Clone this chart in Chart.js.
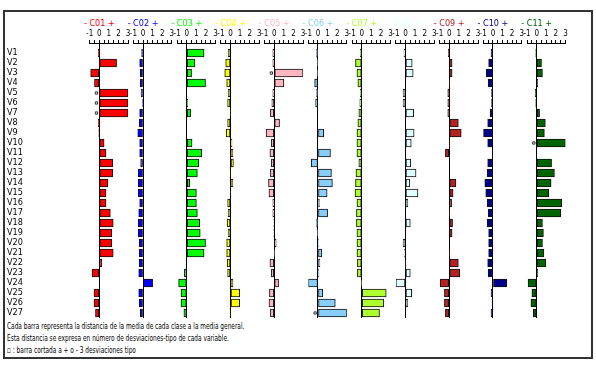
<!DOCTYPE html>
<html>
<head>
<meta charset="utf-8">
<script src="https://cdn.jsdelivr.net/npm/chart.js@4.4.1/dist/chart.umd.min.js"></script>
<style>
  body { margin:0; background:#fff; width:596px; height:371px; overflow:hidden;
         font-family:'Liberation Sans Narrow','DejaVu Sans Condensed','Liberation Sans',sans-serif; }
  #marco { position:absolute; left:3px; top:10px; width:586px; height:345px; border:2px solid #333; }
  canvas { position:absolute; top:0; }
  .titulo { position:absolute; top:18px; font-size:9px; transform:translateX(-50%); white-space:nowrap; }
  .nota { position:absolute; left:7px; font-size:9px; white-space:nowrap; color:#000;
          transform:scaleX(0.72); transform-origin:0 0; }
</style>
</head>
<body>
<div id="marco"></div>
<div class="nota" style="top:321px">Cada barra representa la distancia de la media de cada clase a la media general.</div>
<div class="nota" style="top:333px">Esta distancia se expresa en número de desviaciones-tipo de cada variable.</div>
<div class="nota" style="top:345px">▫ : barra cortada a + o - 3 desviaciones tipo</div>

<script>
// Datos
const variables = ['V1','V2','V3','V4','V5','V6','V7','V8','V9','V10','V11','V12','V13','V14',
                   'V15','V16','V17','V18','V19','V20','V21','V22','V23','V24','V25','V26','V27'];
const clases = ['C01','C02','C03','C04','C05','C06','C07','C08','C09','C10','C11'];
const ejeTicks = [-1, 0, 1, 2, 3];

const c01 = [-0.1, 1.8, -0.9, -0.5, 3, 3, 3, -0.1, -0.05, 0.5, 0.7, 1.4, 1.4, 0.9, 0.7, 0.7, 1.15, 1.45, 1.3, 1.3, 1.45, 0.25, -0.75, 0, -0.55, -0.55, -0.4];
const c02 = [-0.15, -0.35, -0.3, -0.3, -0.2, -0.05, -0.35, -0.4, -0.55, -0.35, -0.35, -0.25, -0.5, -0.5, -0.5, -0.35, -0.45, -0.5, -0.5, -0.4, -0.4, -0.4, -0.45, 1.0, -0.45, -0.4, -0.3];
const c03 = [1.8, 0.85, 0.5, 1.95, 0, 0.1, 0.4, 0, 0, 0.55, 1.55, 1.25, 1.1, 0.3, 1.0, 1.0, 1.1, 1.35, 1.4, 1.95, 1.8, 0, -0.25, -0.85, -0.6, -0.6, -0.3];
const c04 = [-0.25, -0.5, -0.6, -0.4, -0.25, -0.3, -0.05, -0.3, -0.45, 0.15, 0.25, 0.3, -0.05, 0.25, 0.05, -0.3, -0.25, -0.35, -0.25, -0.4, -0.4, -0.35, -0.3, 0.25, 0.95, 0.95, -0.05];
const c05 = [-0.15, -0.15, 3, 1.0, -0.15, -0.25, -0.4, 0.55, -0.85, -0.3, -0.45, -0.3, -0.4, -0.6, -0.55, -0.15, -0.15, -0.05, -0.05, 0.2, 0.05, -0.45, -0.3, 0.45, -0.5, -0.55, -0.4];
const c06 = [-0.15, -0.05, -0.05, -0.35, -0.15, -0.25, 0, 0, 0.6, 0, 1.3, -0.7, 1.4, 1.5, 0.95, 0.15, 1.0, -0.15, -0.05, 0.05, 0.4, 0.2, 0.1, -1.0, 0.5, 1.8, 3];
const c07 = [-0.15, -0.65, -0.5, -0.4, -0.15, -0.2, -0.3, -0.4, -0.5, -0.5, -0.5, -0.3, -0.6, -0.65, -0.7, -0.5, -0.55, -0.55, -0.5, -0.5, -0.5, -0.45, -0.45, -0.05, 2.55, 2.3, 1.85];
const c08 = [-0.15, 0.7, 0.8, 0, -0.25, -0.25, 0.85, 0, 0.9, 0.6, 0, 0.55, 1.1, 0.45, 1.3, 0.25, 0, 0.5, 0, -0.25, -0.1, 0.05, 0.5, -1.0, 0.65, 0.25, 0];
const c09 = [-0.1, 0.3, 0.3, 0.05, -0.15, -0.15, -0.15, 0.95, 1.25, 0.05, -0.4, 0, 0, 0.7, 0.4, 0.25, 0.05, 0.35, 0.3, 0, 0.05, 0.95, 1.1, -0.95, -0.5, -0.5, -0.4];
const c10 = [-0.2, -0.45, -0.7, -0.5, -0.15, -0.15, -0.3, -0.55, -1.0, -0.55, -0.05, -0.55, -0.6, -0.85, -0.75, -0.6, -0.5, -0.6, -0.45, -0.45, -0.45, -0.55, -0.5, 1.45, -0.2, -0.1, -0.2];
const c11 = [-0.1, 0.5, 0.6, 0.1, -0.15, -0.1, 0.3, 0.9, 0.8, 3, 0, 1.55, 1.85, 1.5, 1.25, 2.6, 2.5, 0.6, 0.7, 0.6, 0.75, 0.95, 0.1, -0.9, -0.5, -0.6, -0.35];

const series = [c01, c02, c03, c04, c05, c06, c07, c08, c09, c10, c11];
const colores = ['#ff0000','#0000ff','#00ff00','#ffff00','#ffb6c1','#87cefa','#adff2f','#e0ffff','#b22222','#00008b','#006400'];

const LIMITE = 3;       // barra cortada a +/- 3
const MARCA_X = -0.3;   // posicion de la marca de corte

// Geometria
const FUENTE = "'Liberation Sans Narrow','DejaVu Sans Condensed','Liberation Sans',sans-serif";
const CERO_INICIAL = 99.3;
const SEPARACION = 43.74;
const PX_UNIDAD = 9.6;
const MARGEN = 7;
const ALTO_EJE = 43;
const ALTO_CANVAS = 324;
const PAD_ABAJO = 6;

Chart.defaults.font.family = FUENTE;
Chart.defaults.color = '#000';

series.forEach((valores, k) => {
    const cero = CERO_INICIAL + k * SEPARACION;
    const areaIzq = cero - PX_UNIDAD;
    const areaAncho = 4 * PX_UNIDAD;
    const primero = k === 0;
    const canvasIzq = primero ? 0 : Math.floor(areaIzq - MARGEN);
    const anchoEjeY = primero ? areaIzq - 7 : 0;
    const padIzq = primero ? 7 : areaIzq - canvasIzq;
    const canvasAncho = Math.ceil(areaIzq + areaAncho + MARGEN) - canvasIzq;
    const padDer = canvasAncho - (padIzq + anchoEjeY + areaAncho);

    // titulo de la clase
    const t = document.createElement('div');
    t.className = 'titulo';
    t.style.left = cero + 'px';
    t.style.color = colores[k];
    t.textContent = '- ' + clases[k] + ' +';
    document.body.appendChild(t);

    const cv = document.createElement('canvas');
    cv.width = canvasAncho;
    cv.height = ALTO_CANVAS;
    cv.style.left = canvasIzq + 'px';
    document.body.appendChild(cv);

    const cortadas = [];
    valores.forEach((v, i) => { if (Math.abs(v) >= LIMITE) cortadas.push({x: MARCA_X, y: i}); });

    new Chart(cv, {
        type: 'bar',
        data: {
            datasets: [{
                data: valores.map((v, i) => ({x: v, y: i})),
                backgroundColor: colores[k],
                borderColor: '#111',
                borderWidth: 1,
                borderSkipped: false,
                barThickness: 8
            }, {
                type: 'scatter',
                data: cortadas,
                pointStyle: 'rect',
                pointRadius: 1.6,
                backgroundColor: '#fff',
                borderColor: '#333',
                borderWidth: 1
            }]
        },
        options: {
            indexAxis: 'y',
            responsive: false,
            animation: false,
            events: [],
            layout: { autoPadding: false, padding: { left: padIzq, right: padDer, top: 0, bottom: PAD_ABAJO } },
            plugins: { legend: { display: false }, tooltip: { enabled: false } },
            scales: {
                x: {
                    type: 'linear',
                    position: 'top',
                    min: -1, max: 3,
                    ticks: {
                        stepSize: 0.5, autoSkip: false, maxRotation: 0, minRotation: 0,
                        padding: 1, font: { size: 8 },
                        callback: v => ejeTicks.includes(v) ? String(v) : ''
                    },
                    grid: {
                        drawOnChartArea: true, drawTicks: true, tickLength: 3, tickColor: '#000',
                        color: c => (c.tick && c.tick.value === 0) ? '#000' : 'rgba(0,0,0,0)'
                    },
                    border: { display: true, color: '#000' },
                    afterFit: s => { s.height = ALTO_EJE; }
                },
                y: {
                    type: 'linear',
                    reverse: true,
                    offset: false,
                    min: -1, max: 26.5,
                    display: primero,
                    ticks: {
                        stepSize: 1, autoSkip: false, includeBounds: false, crossAlign: 'far', padding: 0,
                        font: { size: 9 },
                        callback: v => variables[v] ?? ''
                    },
                    grid: { display: false, offset: false },
                    border: { display: false },
                    afterFit: s => { s.width = anchoEjeY; }
                }
            }
        }
    });
});
</script>
</body>
</html>
